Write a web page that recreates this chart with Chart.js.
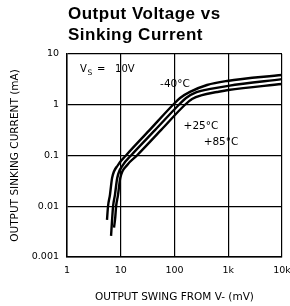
<!DOCTYPE html>
<html><head><meta charset="utf-8">
<script src="https://cdn.jsdelivr.net/npm/chart.js@4"></script>
<style>html,body{margin:0;padding:0;background:#fff;overflow:hidden}canvas{display:block}</style>
</head><body>
<canvas id="c" width="290" height="306"></canvas>
<script>
// ---- data ----
const titleLines = ['Output Voltage vs', 'Sinking Current'];
const xAxisTitle = 'OUTPUT SWING FROM V- (mV)';
const yAxisTitle = 'OUTPUT SINKING CURRENT (mA)';
const xTickValues = [1, 10, 100, 1000, 10000];
const xTickLabels = ['1', '10', '100', '1k', '10k'];
const yTickValues = [0.001, 0.01, 0.1, 1, 10];
const yTickLabels = ['0.001', '0.01', '0.1', '1', '10'];
const seriesNames = ['-40°C', '+25°C', '+85°C'];
const supplyLabel = ['V', 'S', '=', '10V'];

const swingM40   = [5.55, 5.8, 6.3, 6.9, 8.9, 12.5, 34.3, 94, 127, 194, 403, 950, 10000];
const currentM40 = [0.0054, 0.01, 0.0168, 0.036, 0.065, 0.1, 0.316, 1.0, 1.36, 1.79, 2.45, 2.94, 3.86];
const swingP25   = [6.6, 6.9, 7.2, 7.8, 8.6, 11.0, 15.5, 43.3, 121, 164, 251, 499, 1000, 10000];
const currentP25 = [0.0026, 0.0054, 0.01, 0.0168, 0.036, 0.065, 0.1, 0.316, 1.0, 1.36, 1.75, 2.08, 2.36, 3.2];
const swingP85   = [7.5, 7.9, 8.2, 8.9, 9.8, 13.2, 20, 56, 157, 212, 325, 618, 1000, 10000];
const currentP85 = [0.0038, 0.006, 0.01, 0.0168, 0.036, 0.065, 0.1, 0.316, 1.0, 1.3, 1.55, 1.78, 1.95, 2.56];

// ---- label placement (data coordinates) ----
const seriesLabelAt = [
  {x: 102, y: 2.55},
  {x: 311, y: 0.383},
  {x: 733, y: 0.181}
];
const supplyLabelAt = {x: 1.75, y: 5.3};

function pts(xs, ys) { return xs.map((v, i) => ({x: v, y: ys[i]})); }

const lineStyle = {
  showLine: true, borderColor: '#000', backgroundColor: '#000', borderWidth: 2.4,
  pointRadius: 0, pointHoverRadius: 0, cubicInterpolationMode: 'monotone', fill: false
};

const annot = {
  id: 'annot',
  afterDraw(chart) {
    const {ctx, chartArea, scales: {x, y}} = chart;
    ctx.save();
    ctx.fillStyle = '#000';
    ctx.textAlign = 'left';
    ctx.textBaseline = 'alphabetic';
    ctx.font = 'bold 17px "Liberation Sans", Arial, sans-serif';
    if ('letterSpacing' in ctx) ctx.letterSpacing = '0.5px';
    ctx.fillText(titleLines[0], chartArea.left + 1, 18.5);
    ctx.fillText(titleLines[1], chartArea.left + 1, 40);
    if ('letterSpacing' in ctx) ctx.letterSpacing = '0px';

    // supply label
    const sx = x.getPixelForValue(supplyLabelAt.x);
    const sy = y.getPixelForValue(supplyLabelAt.y) + 4;
    ctx.font = '10px "DejaVu Sans", sans-serif';
    ctx.fillText(supplyLabel[0], sx, sy);
    const w = ctx.measureText(supplyLabel[0]).width;
    ctx.font = '7.5px "DejaVu Sans", sans-serif';
    ctx.fillText(supplyLabel[1], sx + w + 0.5, sy + 3);
    ctx.font = '10px "DejaVu Sans", sans-serif';
    ctx.fillText(supplyLabel[2], sx + 17, sy);
    ctx.fillText(supplyLabel[3], sx + 35, sy);

    // series labels
    ctx.font = '10.5px "DejaVu Sans", sans-serif';
    ctx.textAlign = 'center';
    ctx.textBaseline = 'middle';
    seriesNames.forEach((n, i) => {
      ctx.fillText(n, x.getPixelForValue(seriesLabelAt[i].x), y.getPixelForValue(seriesLabelAt[i].y));
    });
    ctx.restore();
  }
};

const tickFont = {family: '"DejaVu Sans", sans-serif', size: 9.5};
const titleFont = {family: '"DejaVu Sans", sans-serif', size: 10.5};

new Chart(document.getElementById('c'), {
  type: 'scatter',
  data: {
    datasets: [
      Object.assign({label: seriesNames[0], data: pts(swingM40, currentM40)}, lineStyle),
      Object.assign({label: seriesNames[1], data: pts(swingP25, currentP25)}, lineStyle),
      Object.assign({label: seriesNames[2], data: pts(swingP85, currentP85)}, lineStyle)
    ]
  },
  options: {
    responsive: false, animation: false, devicePixelRatio: 1,
    layout: {padding: {top: 54, right: 8, bottom: 0, left: 0}},
    plugins: {legend: {display: false}, tooltip: {enabled: false}, title: {display: false}},
    scales: {
      x: {
        type: 'logarithmic', position: 'bottom', min: 1, max: 10000,
        afterBuildTicks: s => { s.ticks = xTickValues.map(v => ({value: v})); },
        afterFit: s => { s.height = 49; s.paddingLeft = 0; s.paddingRight = 0; },
        ticks: {
          callback: v => xTickLabels[xTickValues.indexOf(v)],
          color: '#000', font: tickFont, padding: 8, maxRotation: 0, autoSkip: false
        },
        grid: {color: '#000', lineWidth: 1.2, drawTicks: false},
        border: {color: '#000', width: 1.5},
        title: {display: true, text: xAxisTitle, color: '#000', font: titleFont, padding: {top: 0, bottom: 2}}
      },
      y: {
        type: 'logarithmic', position: 'left', min: 0.001, max: 10,
        afterBuildTicks: s => { s.ticks = yTickValues.map(v => ({value: v})); },
        afterFit: s => { s.width = 67; s.paddingTop = 0; s.paddingBottom = 0; },
        ticks: {
          callback: v => yTickLabels[yTickValues.indexOf(v)],
          color: '#000', font: tickFont, padding: 8, autoSkip: false
        },
        grid: {color: '#000', lineWidth: 1.2, drawTicks: false},
        border: {color: '#000', width: 1.5},
        title: {display: true, text: yAxisTitle, color: '#000', font: titleFont, padding: {top: 9, bottom: 0}}
      }
    }
  },
  plugins: [annot]
});
</script>
</body></html>
